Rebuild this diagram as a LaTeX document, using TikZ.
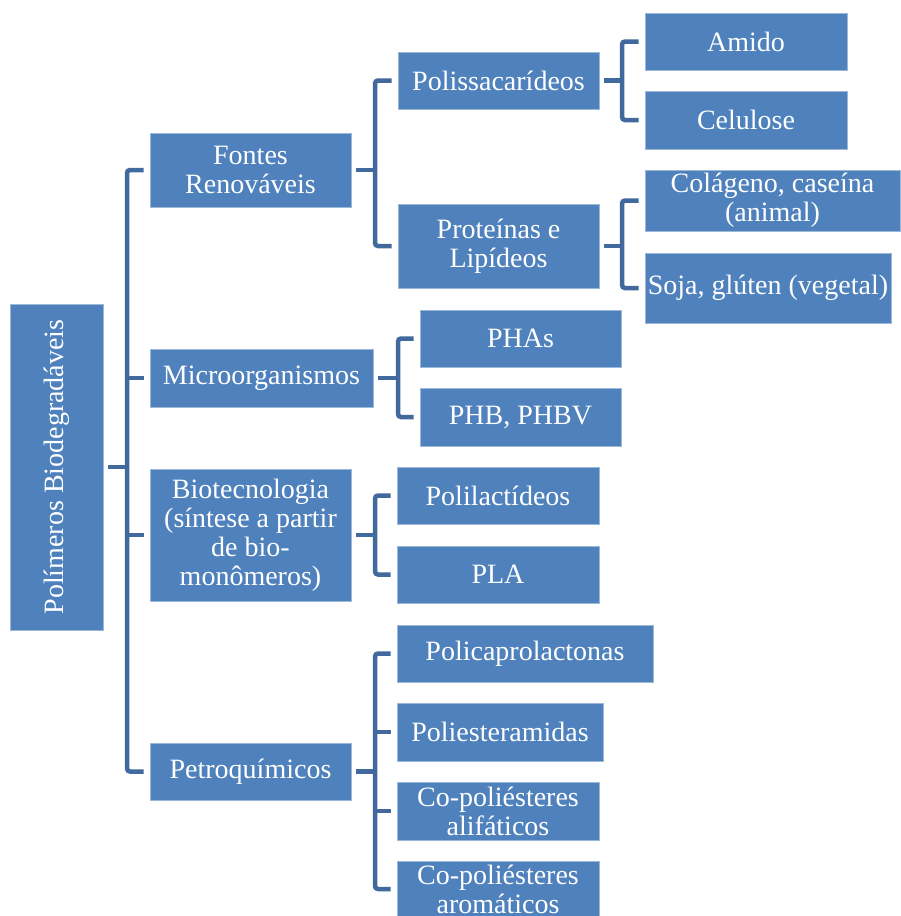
\documentclass[tikz,border=0pt]{standalone}
\usepackage{fontspec}
\setmainfont{Liberation Serif}
\definecolor{boxfill}{HTML}{4F81BD}
\definecolor{boxedge}{HTML}{9DB7D8}
\definecolor{conncol}{HTML}{41699D}
\begin{document}
\begin{tikzpicture}[x=1pt,y=-1pt,
  bx/.style={fill=boxfill,draw=boxedge,line width=0.8pt,text=white,align=center,inner sep=0pt,
    font=\fontsize{28}{29}\selectfont},
  conn/.style={draw=conncol,line width=4.5pt,rounded corners=3pt}]
\useasboundingbox[fill=white] (0,0) rectangle (901,916);
\newcommand{\bxat}[6]{\node[bx,minimum width=#3pt-#1pt,minimum height=#4pt-#2pt] (#5) at ({(#1+#3)/2},{(#2+#4)/2}) {#6};}
% root
\node[bx,rotate=90,minimum width=326pt,minimum height=93pt] (root) at (56.5,467) {Polímeros Biodegradáveis};
% level 1
\bxat{150}{133}{351}{207}{fontes}{Fontes\\Renováveis}
\bxat{150}{349}{373}{407}{micro}{Microorganismos}
\bxat{150}{469}{351}{601}{biotec}{Biotecnologia\\(síntese a partir\\de bio-\\monômeros)}
\bxat{150}{743}{351}{800}{petro}{Petroquímicos}
% level 2
\bxat{398}{52}{599}{109}{polis}{Polissacarídeos}
\bxat{398}{204}{599}{288}{prot}{Proteínas e\\Lipídeos}
\bxat{420}{310}{621}{367}{pha}{PHAs}
\bxat{420}{388}{621}{446}{phb}{PHB, PHBV}
\bxat{397}{467}{599}{524}{polil}{Polilactídeos}
\bxat{397}{546}{599}{603}{pla}{PLA}
\bxat{397}{625}{653}{682}{polic}{Policaprolactonas}
\bxat{397}{703}{603}{761}{polie}{Poliesteramidas}
\bxat{397}{782}{599}{840}{coali}{Co-poliésteres\\alifáticos}
\bxat{397}{861}{599}{917}{coaro}{Co-poliésteres\\aromáticos}
% level 3
\bxat{645}{13}{847}{70}{amido}{Amido}
\bxat{645}{91}{847}{149}{celu}{Celulose}
\bxat{645}{170}{900}{231}{colag}{Colágeno, caseína\\(animal)}
\bxat{645}{253}{891}{323}{soja}{Soja, glúten (vegetal)}
% junctions
\coordinate (j0) at (127,467);
\coordinate (j1) at (375,170);
\coordinate (j2) at (622,80.5);
\coordinate (j3) at (622,246);
\coordinate (j4) at (398,378);
\coordinate (j5) at (375,535);
\coordinate (j6) at (375,771.5);
% root connectors
\draw[conn] ([xshift=5pt]root.south) -- (j0);
\draw[conn] ([xshift=-6pt]fontes.west) -| (j0) |- ([xshift=-6pt]petro.west);
\draw[conn] (j0 |- micro.west) -- ([xshift=-6pt]micro.west);
\draw[conn] (j0 |- biotec.west) -- ([xshift=-6pt]biotec.west);
% fontes
\draw[conn] ([xshift=5pt]fontes.east) -- (j1);
\draw[conn] ([xshift=-6pt]polis.west) -| (j1) |- ([xshift=-6pt]prot.west);
% polissacarideos
\draw[conn] ([xshift=5pt]polis.east) -- (j2);
\draw[conn] ([xshift=-6pt]amido.west) -| (j2) |- ([xshift=-6pt]celu.west);
% proteinas
\draw[conn] ([xshift=5pt]prot.east) -- (j3);
\draw[conn] ([xshift=-6pt]colag.west) -| (j3) |- ([xshift=-6pt]soja.west);
% micro
\draw[conn] ([xshift=5pt]micro.east) -- (j4);
\draw[conn] ([xshift=-6pt]pha.west) -| (j4) |- ([xshift=-6pt]phb.west);
% biotec
\draw[conn] ([xshift=5pt]biotec.east) -- (j5);
\draw[conn] ([xshift=-6pt]polil.west) -| (j5) |- ([xshift=-6pt]pla.west);
% petro
\draw[conn] ([xshift=5pt]petro.east) -- (j6);
\draw[conn] ([xshift=-6pt]polic.west) -| (j6) |- ([xshift=-6pt]coaro.west);
\draw[conn] (j6 |- polie.west) -- ([xshift=-6pt]polie.west);
\draw[conn] (j6 |- coali.west) -- ([xshift=-6pt]coali.west);
\end{tikzpicture}
\end{document}
